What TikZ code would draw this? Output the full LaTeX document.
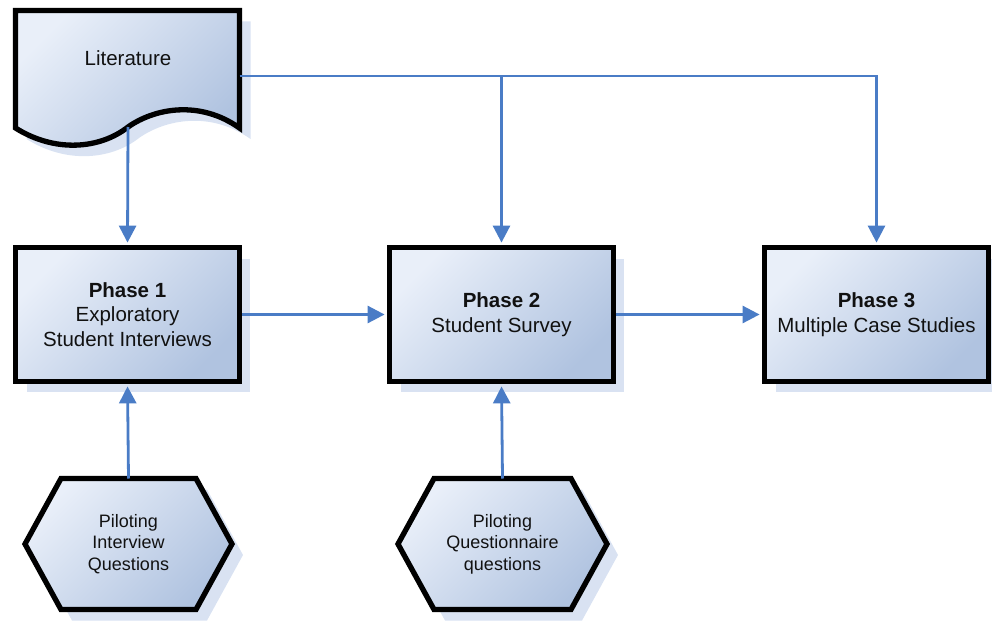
\documentclass[tikz,border=0pt]{standalone}
\usepackage{fontspec}
\setmainfont{Liberation Sans}
\usetikzlibrary{arrows.meta,shadows}

\definecolor{flowblue}{HTML}{4A7CC6}
\definecolor{boxlight}{HTML}{E9EFF9}
\definecolor{boxdark}{HTML}{B0C3E0}
\definecolor{shadowblue}{HTML}{D9E2F2}
\definecolor{inktext}{HTML}{111111}

\tikzset{
  shapefill/.style={top color=boxlight, bottom color=boxdark, shading angle=45,
    draw=black, line width=5.3pt, line join=miter},
  boxshadow/.style={drop shadow={shadow xshift=11pt, shadow yshift=-11pt,
    fill=shadowblue, opacity=1}},
  phasebox/.style={shapefill, boxshadow, minimum width=223.5pt, minimum height=133.5pt,
    inner sep=0pt, align=center, text=inktext, font=\fontsize{20.5}{24.5}\selectfont},
  bigtext/.style={align=center, text=inktext, font=\fontsize{20.5}{24.5}\selectfont},
  hextext/.style={align=center, text=inktext, font=\fontsize{18}{21.5}\selectfont},
  flow/.style={draw=flowblue, line width=2.8pt, shorten >=2.5pt,
    -{Triangle[length=17pt,width=17pt]}},
}

\begin{document}
\begin{tikzpicture}[x=1pt,y=-1pt]
\useasboundingbox (0,0) rectangle (992,626);

% Literature (document shape)
\fill[shadowblue, shift={(11,11)}]
  (15.5,10.5) -- (239.5,10.5) -- (239.5,128)
  .. controls (200,100) and (155,108) .. (128,127)
  .. controls (100,149) and (55,153) .. (15.5,128) -- cycle;
\draw[shapefill]
  (15.5,10.5) -- (239.5,10.5) -- (239.5,128)
  .. controls (200,100) and (155,108) .. (128,127)
  .. controls (100,149) and (55,153) .. (15.5,128) -- cycle;
\node[bigtext] (lit) at (128,58) {Literature};
\coordinate (litbottom) at (128,127);
\coordinate (litright) at (239.5,76);

% Phase boxes
\node[phasebox] (phase1) at (127.5,314.5) {\textbf{Phase 1}\\Exploratory\\Student Interviews};
\node[phasebox] (phase2) at (501.5,314.5) {\textbf{Phase 2}\\Student Survey};
\node[phasebox] (phase3) at (876.5,314.5) {\textbf{Phase 3}\\Multiple Case Studies};

% Piloting hexagons
\begin{scope}[shift={(128.5,544)}]
  \fill[shadowblue, shift={(11,11)}]
    (-103.5,0) -- (-67.5,-65.5) -- (67.5,-65.5) -- (103.5,0) -- (67.5,65.5) -- (-67.5,65.5) -- cycle;
  \draw[shapefill]
    (-103.5,0) -- (-67.5,-65.5) -- (67.5,-65.5) -- (103.5,0) -- (67.5,65.5) -- (-67.5,65.5) -- cycle;
  \node[hextext] (pilot1) at (0,0) {Piloting\\Interview\\Questions};
  \coordinate (pilot1top) at (0,-65.5);
\end{scope}

\begin{scope}[shift={(502.5,544)}]
  \fill[shadowblue, shift={(11,11)}]
    (-104.5,0) -- (-68.5,-65.5) -- (68.5,-65.5) -- (104.5,0) -- (68.5,65.5) -- (-68.5,65.5) -- cycle;
  \draw[shapefill]
    (-104.5,0) -- (-68.5,-65.5) -- (68.5,-65.5) -- (104.5,0) -- (68.5,65.5) -- (-68.5,65.5) -- cycle;
  \node[hextext] (pilot2) at (0,0) {Piloting\\Questionnaire\\questions};
  \coordinate (pilot2top) at (0,-65.5);
\end{scope}

% Connectors
\draw[flow] (litbottom) -- (phase1.north);
\draw[flow] (litright) -| (phase3.north);
\draw[flow] (litright -| phase2.north) -- (phase2.north);
\draw[flow] (phase1.east) -- (phase2.west);
\draw[flow] (phase2.east) -- (phase3.west);
\draw[flow] (pilot1top) -- (phase1.south);
\draw[flow] (pilot2top) -- (phase2.south);
\end{tikzpicture}
\end{document}
